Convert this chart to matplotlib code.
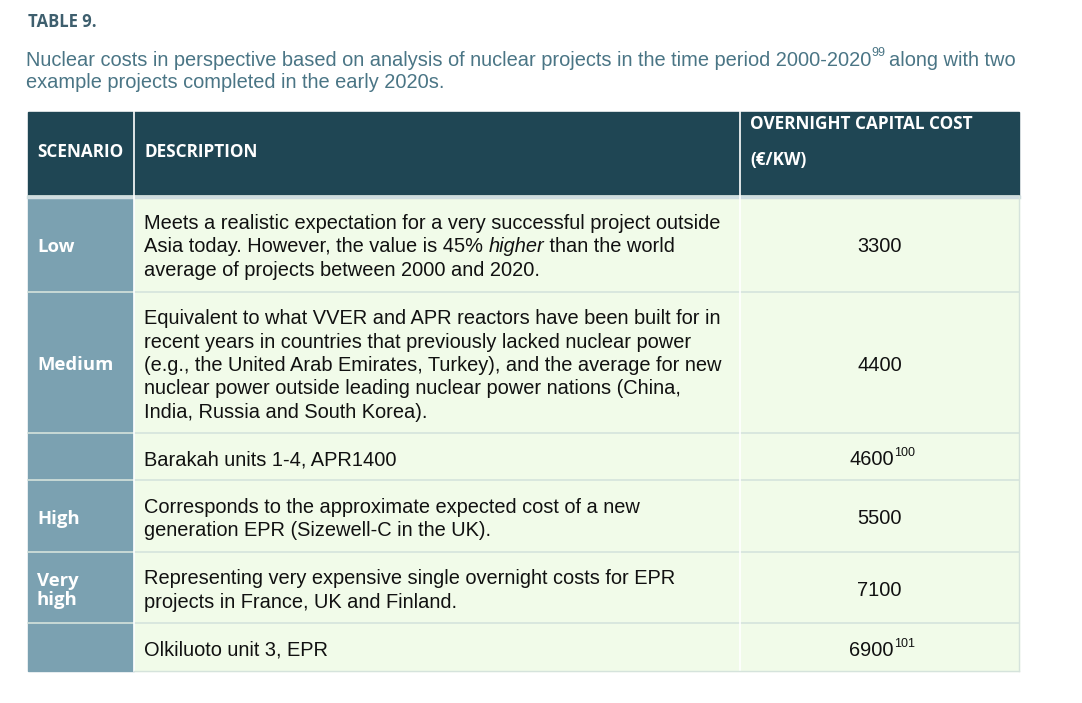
import matplotlib
matplotlib.use("Agg")
import matplotlib.pyplot as plt
from matplotlib.patches import Rectangle

scenarios = ["Low", "Medium", "", "High", "Very\nhigh", ""]
descriptions = [
    ["Meets a realistic expectation for a very successful project outside",
     "Asia today. However, the value is 45% |higher| than the world",
     "average of projects between 2000 and 2020."],
    ["Equivalent to what VVER and APR reactors have been built for in",
     "recent years in countries that previously lacked nuclear power",
     "(e.g., the United Arab Emirates, Turkey), and the average for new",
     "nuclear power outside leading nuclear power nations (China,",
     "India, Russia and South Korea)."],
    ["Barakah units 1-4, APR1400"],
    ["Corresponds to the approximate expected cost of a new",
     "generation EPR (Sizewell-C in the UK)."],
    ["Representing very expensive single overnight costs for EPR",
     "projects in France, UK and Finland."],
    ["Olkiluoto unit 3, EPR"],
]
costs = ["3300", "4400", "4600", "5500", "7100", "6900"]
cost_notes = ["", "", "100", "", "", "101"]
headers = ["SCENARIO", "DESCRIPTION", "OVERNIGHT CAPITAL COST\n\n(€/KW)"]

W, H = 1082, 703
fig = plt.figure(figsize=(W/100, H/100), dpi=100)
ax = fig.add_axes([0, 0, 1, 1])
ax.set_xlim(0, W); ax.set_ylim(H, 0); ax.axis("off")
r = fig.canvas.get_renderer()

def px_w(t):
    return t.get_window_extent(renderer=r).width

HEAD = "#1f4654"; SCEN = "#7ba1b1"; BODY = "#f1fbe9"; TXT = "#4a7585"
cols = [28, 134, 740, 1019]
rows = [112, 196, 292, 433, 480, 552, 623, 671]
FS = 14.4
bodyfont = dict(family="Liberation Sans", fontsize=FS, color="#111111")
hfont = dict(family="Open Sans", fontsize=12.3, fontweight="bold", color="white")
DY = 3

ax.text(28, 22, "TABLE 9.", family="Open Sans", fontsize=12, fontweight="bold", color="#3e5f6e", va="center")
t = ax.text(26, 59 + 1, "Nuclear costs in perspective based on analysis of nuclear projects in the time period 2000-2020",
            family="Liberation Sans", fontsize=FS, color=TXT, va="center")
x = 26 + px_w(t)
t2 = ax.text(x, 53, "99", family="Liberation Sans", fontsize=9, color=TXT, va="center")
ax.text(x + px_w(t2) + 4, 60, "along with two", family="Liberation Sans", fontsize=FS, color=TXT, va="center")
ax.text(26, 82, "example projects completed in the early 2020s.", family="Liberation Sans", fontsize=FS, color=TXT, va="center")

ax.add_patch(Rectangle((cols[0], rows[0]), cols[3]-cols[0], rows[1]-rows[0], color=HEAD))
ax.text(cols[0]+9, 152, headers[0], va="center", **hfont)
ax.text(cols[1]+10, 152, headers[1], va="center", **hfont)
ax.text(cols[2]+10, 142, headers[2], va="center", linespacing=1.0, **hfont)

for i in range(len(costs)):
    y0, y1 = rows[i+1], rows[i+2]
    ym = (y0 + y1) / 2 + DY
    ax.add_patch(Rectangle((cols[0], y0), cols[1]-cols[0], y1-y0, color=SCEN))
    ax.add_patch(Rectangle((cols[1], y0), cols[3]-cols[1], y1-y0, color=BODY))
    if scenarios[i]:
        ax.text(cols[0]+9, ym, scenarios[i], va="center", family="Open Sans", fontsize=13.3,
                fontweight="bold", color="white", linespacing=1.05)
    lines = descriptions[i]
    n = len(lines)
    for k, ln in enumerate(lines):
        yy = ym + (k - (n-1)/2) * 23.3
        xx = cols[1] + 10
        for j, p in enumerate(ln.split("|")):
            if not p:
                continue
            tt = ax.text(xx, yy, p, va="center", style="italic" if j % 2 else "normal", **bodyfont)
            xx += px_w(tt)
    cx = (cols[2] + cols[3]) / 2
    if cost_notes[i]:
        tc = ax.text(cx - 8, ym, costs[i], va="center", ha="center", **bodyfont)
        bb = tc.get_window_extent(renderer=r)
        ax.text(cx - 8 + bb.width/2, ym - 6, cost_notes[i], va="center", ha="left",
                family="Liberation Sans", fontsize=9, color="#111111")
    else:
        ax.text(cx, ym, costs[i], va="center", ha="center", **bodyfont)

for y in rows[1:-1]:
    ax.plot([cols[0], cols[3]], [y, y], color="#d5e3dc", lw=1.2)
ax.plot([cols[0], cols[3]], [rows[1]+1, rows[1]+1], color="#cfdde0", lw=2.5)
for xv in cols[1:3]:
    ax.plot([xv, xv], [rows[0], rows[-1]], color="white", lw=1.2)
ax.plot([cols[3], cols[3]], [rows[1], rows[-1]], color="#d5e3dc", lw=1)
ax.plot([cols[1], cols[3]], [rows[-1], rows[-1]], color="#d5e3dc", lw=1)

fig.savefig("out.png", dpi=100)
